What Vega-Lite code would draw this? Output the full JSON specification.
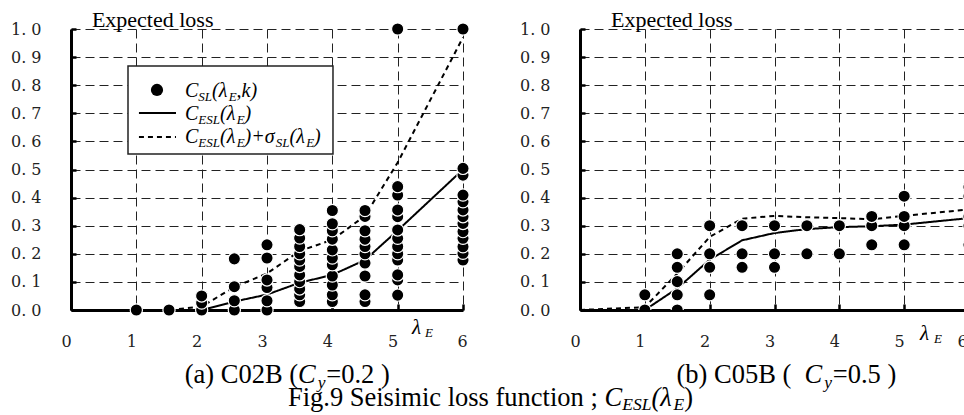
{
  "$schema": "https://vega.github.io/schema/vega-lite/v6.json",
  "background": "white",
  "padding": {"left": 10, "top": 9, "right": 0, "bottom": 0},
  "bounds": "flush",
  "spacing": 117,
  "config": {
    "view": {"stroke": null},
    "axis": {"grid": true, "gridDash": [9, 5], "gridColor": "#222", "gridWidth": 1, "domainColor": "black", "domainWidth": 3, "tickColor": "black", "tickWidth": 2.5, "labelFont": "DejaVu Serif", "labelFontSize": 16, "labelColor": "#222", "labelOverlap": false},
    "text": {"font": "Liberation Serif", "align": "left", "baseline": "alphabetic", "color": "black"}
  },
  "datasets": {
    "pa": [
      {"x": 1, "y": 0}, {"x": 1.5, "y": 0},
      {"x": 2, "y": 0}, {"x": 2, "y": 0.025}, {"x": 2, "y": 0.05},
      {"x": 2.5, "y": 0}, {"x": 2.5, "y": 0.033}, {"x": 2.5, "y": 0.083}, {"x": 2.5, "y": 0.182},
      {"x": 3, "y": 0}, {"x": 3, "y": 0.033}, {"x": 3, "y": 0.08}, {"x": 3, "y": 0.107}, {"x": 3, "y": 0.185}, {"x": 3, "y": 0.232},
      {"x": 3.5, "y": 0.03}, {"x": 3.5, "y": 0.054}, {"x": 3.5, "y": 0.075}, {"x": 3.5, "y": 0.101}, {"x": 3.5, "y": 0.125}, {"x": 3.5, "y": 0.155}, {"x": 3.5, "y": 0.178}, {"x": 3.5, "y": 0.2}, {"x": 3.5, "y": 0.226}, {"x": 3.5, "y": 0.256}, {"x": 3.5, "y": 0.286},
      {"x": 4, "y": 0.03}, {"x": 4, "y": 0.054}, {"x": 4, "y": 0.089}, {"x": 4, "y": 0.121}, {"x": 4, "y": 0.161}, {"x": 4, "y": 0.185}, {"x": 4, "y": 0.214}, {"x": 4, "y": 0.252}, {"x": 4, "y": 0.282}, {"x": 4, "y": 0.307}, {"x": 4, "y": 0.354},
      {"x": 4.5, "y": 0.03}, {"x": 4.5, "y": 0.054}, {"x": 4.5, "y": 0.121}, {"x": 4.5, "y": 0.167}, {"x": 4.5, "y": 0.2}, {"x": 4.5, "y": 0.226}, {"x": 4.5, "y": 0.252}, {"x": 4.5, "y": 0.282}, {"x": 4.5, "y": 0.333}, {"x": 4.5, "y": 0.354},
      {"x": 5, "y": 0.053}, {"x": 5, "y": 0.107}, {"x": 5, "y": 0.125}, {"x": 5, "y": 0.178}, {"x": 5, "y": 0.2}, {"x": 5, "y": 0.226}, {"x": 5, "y": 0.255}, {"x": 5, "y": 0.285}, {"x": 5, "y": 0.332}, {"x": 5, "y": 0.356}, {"x": 5, "y": 0.409}, {"x": 5, "y": 0.439}, {"x": 5, "y": 1.0},
      {"x": 6, "y": 0.178}, {"x": 6, "y": 0.202}, {"x": 6, "y": 0.225}, {"x": 6, "y": 0.255}, {"x": 6, "y": 0.279}, {"x": 6, "y": 0.308}, {"x": 6, "y": 0.332}, {"x": 6, "y": 0.356}, {"x": 6, "y": 0.385}, {"x": 6, "y": 0.409}, {"x": 6, "y": 0.48}, {"x": 6, "y": 0.504}, {"x": 6, "y": 1.0}
    ],
    "la": [
      {"x": 0, "y": 0, "s": "mean"}, {"x": 1, "y": 0, "s": "mean"}, {"x": 1.5, "y": 0, "s": "mean"}, {"x": 2, "y": 0, "s": "mean"}, {"x": 2.5, "y": 0.03, "s": "mean"}, {"x": 3, "y": 0.055, "s": "mean"}, {"x": 3.5, "y": 0.097, "s": "mean"}, {"x": 4, "y": 0.125, "s": "mean"}, {"x": 4.5, "y": 0.178, "s": "mean"}, {"x": 5, "y": 0.283, "s": "mean"}, {"x": 6, "y": 0.5, "s": "mean"},
      {"x": 0, "y": 0, "s": "mean+sd"}, {"x": 1, "y": 0, "s": "mean+sd"}, {"x": 1.5, "y": 0, "s": "mean+sd"}, {"x": 2, "y": 0.012, "s": "mean+sd"}, {"x": 2.5, "y": 0.082, "s": "mean+sd"}, {"x": 3, "y": 0.13, "s": "mean+sd"}, {"x": 3.5, "y": 0.21, "s": "mean+sd"}, {"x": 4, "y": 0.25, "s": "mean+sd"}, {"x": 4.5, "y": 0.335, "s": "mean+sd"}, {"x": 5, "y": 0.525, "s": "mean+sd"}, {"x": 6, "y": 0.97, "s": "mean+sd"}
    ],
    "pb": [
      {"x": 1, "y": 0}, {"x": 1, "y": 0.054},
      {"x": 1.5, "y": 0}, {"x": 1.5, "y": 0.054}, {"x": 1.5, "y": 0.101}, {"x": 1.5, "y": 0.152}, {"x": 1.5, "y": 0.2},
      {"x": 2, "y": 0.054}, {"x": 2, "y": 0.152}, {"x": 2, "y": 0.2}, {"x": 2, "y": 0.3},
      {"x": 2.5, "y": 0.152}, {"x": 2.5, "y": 0.2}, {"x": 2.5, "y": 0.3},
      {"x": 3, "y": 0.152}, {"x": 3, "y": 0.2}, {"x": 3, "y": 0.3},
      {"x": 3.5, "y": 0.2}, {"x": 3.5, "y": 0.3},
      {"x": 4, "y": 0.2}, {"x": 4, "y": 0.3},
      {"x": 4.5, "y": 0.232}, {"x": 4.5, "y": 0.3}, {"x": 4.5, "y": 0.333},
      {"x": 5, "y": 0.232}, {"x": 5, "y": 0.3}, {"x": 5, "y": 0.333}, {"x": 5, "y": 0.405},
      {"x": 6, "y": 0.232}, {"x": 6, "y": 0.3}, {"x": 6, "y": 0.333}, {"x": 6, "y": 0.405}, {"x": 6, "y": 0.438}
    ],
    "lb": [
      {"x": 0, "y": 0, "s": "mean"}, {"x": 1, "y": 0, "s": "mean"}, {"x": 1.5, "y": 0.077, "s": "mean"}, {"x": 2, "y": 0.179, "s": "mean"}, {"x": 2.5, "y": 0.248, "s": "mean"}, {"x": 3, "y": 0.274, "s": "mean"}, {"x": 3.5, "y": 0.288, "s": "mean"}, {"x": 4, "y": 0.295, "s": "mean"}, {"x": 4.5, "y": 0.298, "s": "mean"}, {"x": 5, "y": 0.304, "s": "mean"}, {"x": 6, "y": 0.327, "s": "mean"},
      {"x": 0, "y": 0, "s": "mean+sd"}, {"x": 1, "y": 0.01, "s": "mean+sd"}, {"x": 1.5, "y": 0.13, "s": "mean+sd"}, {"x": 2, "y": 0.26, "s": "mean+sd"}, {"x": 2.5, "y": 0.325, "s": "mean+sd"}, {"x": 3, "y": 0.335, "s": "mean+sd"}, {"x": 3.5, "y": 0.33, "s": "mean+sd"}, {"x": 4, "y": 0.327, "s": "mean+sd"}, {"x": 4.5, "y": 0.323, "s": "mean+sd"}, {"x": 5, "y": 0.335, "s": "mean+sd"}, {"x": 6, "y": 0.358, "s": "mean+sd"}
    ]
  },
  "hconcat": [
    {
      "width": 392,
      "height": 281,
      "layer": [
        {"data": {"name": "la"}, "mark": {"type": "line", "color": "black", "strokeWidth": 2},
          "encoding": {
            "x": {"field": "x", "type": "quantitative", "scale": {"domain": [0, 6], "nice": false, "zero": false}, "axis": {"values": [0, 1, 2, 3, 4, 5, 6], "format": "d", "title": null, "grid": true, "tickSize": -6, "labelPadding": 29, "labelFlush": false, "labelOverlap": false, "labelOffset": {"condition": {"test": "datum.value == 6", "value": -1}, "value": -5}}},
            "y": {"field": "y", "type": "quantitative", "scale": {"domain": [0, 1], "nice": false}, "axis": {"values": [0, 0.1, 0.2, 0.3, 0.4, 0.5, 0.6, 0.7, 0.8, 0.9, 1.0], "title": null, "grid": true, "tickSize": -5, "labelPadding": 35, "labelOverlap": false, "labelExpr": "replace(format(datum.value, '.1f'), '.', '. ')"}},
            "strokeDash": {"field": "s", "type": "nominal", "scale": {"domain": ["mean", "mean+sd"], "range": [[1, 0], [5, 4]]}, "legend": null}}},
        {"data": {"name": "pa"}, "mark": {"type": "circle", "size": 150, "fill": "black", "stroke": "white", "strokeWidth": 1.2, "opacity": 1},
          "encoding": {
            "x": {"field": "x", "type": "quantitative", "scale": {"domain": [0, 6], "nice": false, "zero": false}, "axis": {"values": [0, 1, 2, 3, 4, 5, 6], "format": "d", "title": null, "grid": true, "tickSize": -6, "labelPadding": 29, "labelFlush": false, "labelOverlap": false, "labelOffset": {"condition": {"test": "datum.value == 6", "value": -1}, "value": -5}}},
            "y": {"field": "y", "type": "quantitative", "scale": {"domain": [0, 1], "nice": false}, "axis": {"values": [0, 0.1, 0.2, 0.3, 0.4, 0.5, 0.6, 0.7, 0.8, 0.9, 1.0], "title": null, "grid": true, "tickSize": -5, "labelPadding": 35, "labelOverlap": false, "labelExpr": "replace(format(datum.value, '.1f'), '.', '. ')"}}}},
        {"data": {"values": [{}]},
          "encoding": {
            "x": {"datum": 0, "type": "quantitative", "scale": {"domain": [0, 6], "nice": false, "zero": false}, "axis": {"values": [0, 1, 2, 3, 4, 5, 6], "format": "d", "title": null, "grid": true, "tickSize": -6, "labelPadding": 29, "labelFlush": false, "labelOverlap": false, "labelOffset": {"condition": {"test": "datum.value == 6", "value": -1}, "value": -5}}},
            "y": {"datum": 0, "type": "quantitative", "scale": {"domain": [0, 1], "nice": false}, "axis": {"values": [0, 0.1, 0.2, 0.3, 0.4, 0.5, 0.6, 0.7, 0.8, 0.9, 1.0], "title": null, "grid": true, "tickSize": -5, "labelPadding": 35, "labelOverlap": false, "labelExpr": "replace(format(datum.value, '.1f'), '.', '. ')"}}
          },
          "layer": [
            {"mark": {"type": "rect", "fill": "white", "stroke": "#222", "strokeWidth": 1.5},
              "encoding": {"x": {"datum": 0.8725}, "x2": {"datum": 4.01}, "y": {"datum": 0.868}, "y2": {"datum": 0.555}}},
            {"mark": {"type": "circle", "size": 150, "fill": "black", "opacity": 1}, "encoding": {"x": {"datum": 1.316}, "y": {"datum": 0.783}}},
            {"mark": {"type": "rule", "color": "black", "strokeWidth": 2}, "encoding": {"x": {"datum": 1.04}, "x2": {"datum": 1.607}, "y": {"datum": 0.701}}},
            {"mark": {"type": "rule", "color": "black", "strokeWidth": 2, "strokeDash": [5, 4]}, "encoding": {"x": {"datum": 1.04}, "x2": {"datum": 1.607}, "y": {"datum": 0.616}}},
            {"mark": {"type": "text", "text": "Expected loss", "fontSize": 22}, "encoding": {"x": {"datum": 0.32}, "y": {"datum": 1.007}}},
            {"mark": {"type": "text", "text": "λ", "fontSize": 21, "fontStyle": "italic"}, "encoding": {"x": {"datum": 5.22}, "y": {"datum": -0.085}}},
            {"mark": {"type": "text", "text": "E", "fontSize": 13, "fontStyle": "italic", "dx": 13, "dy": 3}, "encoding": {"x": {"datum": 5.22}, "y": {"datum": -0.085}}},
            {"mark": {"type": "text", "text": "C", "fontSize": 20, "fontStyle": "italic", "dx": 0}, "encoding": {"x": {"datum": 1.745}, "y": {"datum": 0.758}}},
            {"mark": {"type": "text", "text": "SL", "fontSize": 13, "fontStyle": "italic", "dx": 13.3, "dy": 4}, "encoding": {"x": {"datum": 1.745}, "y": {"datum": 0.758}}},
            {"mark": {"type": "text", "text": "(λ", "fontSize": 20, "fontStyle": "italic", "dx": 27}, "encoding": {"x": {"datum": 1.745}, "y": {"datum": 0.758}}},
            {"mark": {"type": "text", "text": "E", "fontSize": 13, "fontStyle": "italic", "dx": 43.7, "dy": 4}, "encoding": {"x": {"datum": 1.745}, "y": {"datum": 0.758}}},
            {"mark": {"type": "text", "text": ",k)", "fontSize": 20, "fontStyle": "italic", "dx": 51.6}, "encoding": {"x": {"datum": 1.745}, "y": {"datum": 0.758}}},
            {"mark": {"type": "text", "text": "C", "fontSize": 20, "fontStyle": "italic", "dx": 0}, "encoding": {"x": {"datum": 1.745}, "y": {"datum": 0.676}}},
            {"mark": {"type": "text", "text": "ESL", "fontSize": 13, "fontStyle": "italic", "dx": 13.3, "dy": 4}, "encoding": {"x": {"datum": 1.745}, "y": {"datum": 0.676}}},
            {"mark": {"type": "text", "text": "(λ", "fontSize": 20, "fontStyle": "italic", "dx": 35}, "encoding": {"x": {"datum": 1.745}, "y": {"datum": 0.676}}},
            {"mark": {"type": "text", "text": "E", "fontSize": 13, "fontStyle": "italic", "dx": 51.7, "dy": 4}, "encoding": {"x": {"datum": 1.745}, "y": {"datum": 0.676}}},
            {"mark": {"type": "text", "text": ")", "fontSize": 20, "fontStyle": "italic", "dx": 59.6}, "encoding": {"x": {"datum": 1.745}, "y": {"datum": 0.676}}},
            {"mark": {"type": "text", "text": "C", "fontSize": 20, "fontStyle": "italic", "dx": 0}, "encoding": {"x": {"datum": 1.745}, "y": {"datum": 0.594}}},
            {"mark": {"type": "text", "text": "ESL", "fontSize": 13, "fontStyle": "italic", "dx": 13.3, "dy": 4}, "encoding": {"x": {"datum": 1.745}, "y": {"datum": 0.594}}},
            {"mark": {"type": "text", "text": "(λ", "fontSize": 20, "fontStyle": "italic", "dx": 35}, "encoding": {"x": {"datum": 1.745}, "y": {"datum": 0.594}}},
            {"mark": {"type": "text", "text": "E", "fontSize": 13, "fontStyle": "italic", "dx": 51.7, "dy": 4}, "encoding": {"x": {"datum": 1.745}, "y": {"datum": 0.594}}},
            {"mark": {"type": "text", "text": ")+σ", "fontSize": 20, "fontStyle": "italic", "dx": 59.6}, "encoding": {"x": {"datum": 1.745}, "y": {"datum": 0.594}}},
            {"mark": {"type": "text", "text": "SL", "fontSize": 13, "fontStyle": "italic", "dx": 90.8, "dy": 4}, "encoding": {"x": {"datum": 1.745}, "y": {"datum": 0.594}}},
            {"mark": {"type": "text", "text": "(λ", "fontSize": 20, "fontStyle": "italic", "dx": 104.5}, "encoding": {"x": {"datum": 1.745}, "y": {"datum": 0.594}}},
            {"mark": {"type": "text", "text": "E", "fontSize": 13, "fontStyle": "italic", "dx": 121.2, "dy": 4}, "encoding": {"x": {"datum": 1.745}, "y": {"datum": 0.594}}},
            {"mark": {"type": "text", "text": ")", "fontSize": 20, "fontStyle": "italic", "dx": 129.1}, "encoding": {"x": {"datum": 1.745}, "y": {"datum": 0.594}}},
            {"mark": {"type": "text", "text": "(a) C02B (", "fontSize": 26.5, "dx": 0}, "encoding": {"x": {"datum": 1.74}, "y": {"datum": -0.26}}},
            {"mark": {"type": "text", "text": "C", "fontSize": 26.5, "fontStyle": "italic", "dx": 113.3}, "encoding": {"x": {"datum": 1.74}, "y": {"datum": -0.26}}},
            {"mark": {"type": "text", "text": "y", "fontSize": 17.5, "fontStyle": "italic", "dx": 133, "dy": 5}, "encoding": {"x": {"datum": 1.74}, "y": {"datum": -0.26}}},
            {"mark": {"type": "text", "text": "=0.2 )", "fontSize": 26.5, "dx": 141.5}, "encoding": {"x": {"datum": 1.74}, "y": {"datum": -0.26}}},
            {"mark": {"type": "text", "text": "Fig.9 Seisimic loss function ; ", "fontSize": 26.5, "dx": 0}, "encoding": {"x": {"datum": 3.32}, "y": {"datum": -0.342}}},
            {"mark": {"type": "text", "text": "C", "fontSize": 26.5, "fontStyle": "italic", "dx": 316.6}, "encoding": {"x": {"datum": 3.32}, "y": {"datum": -0.342}}},
            {"mark": {"type": "text", "text": "ESL", "fontSize": 17.5, "fontStyle": "italic", "dx": 334.3, "dy": 4}, "encoding": {"x": {"datum": 3.32}, "y": {"datum": -0.342}}},
            {"mark": {"type": "text", "text": "(λ", "fontSize": 26.5, "fontStyle": "italic", "dx": 363.5}, "encoding": {"x": {"datum": 3.32}, "y": {"datum": -0.342}}},
            {"mark": {"type": "text", "text": "E", "fontSize": 17.5, "fontStyle": "italic", "dx": 385.6, "dy": 4}, "encoding": {"x": {"datum": 3.32}, "y": {"datum": -0.342}}},
            {"mark": {"type": "text", "text": ")", "fontSize": 26.5, "dx": 396.3}, "encoding": {"x": {"datum": 3.32}, "y": {"datum": -0.342}}}
          ]
        }
      ]
    },
    {
      "width": 389,
      "height": 281,
      "layer": [
        {"data": {"name": "lb"}, "mark": {"type": "line", "color": "black", "strokeWidth": 2, "clip": true},
          "encoding": {
            "x": {"field": "x", "type": "quantitative", "scale": {"domain": [0, 6], "nice": false, "zero": false}, "axis": {"values": [0, 1, 2, 3, 4, 5, 6], "format": "d", "title": null, "grid": true, "tickSize": -6, "labelPadding": 29, "labelFlush": false, "labelOverlap": false, "labelOffset": {"condition": {"test": "datum.value == 6", "value": -7}, "value": -5}}},
            "y": {"field": "y", "type": "quantitative", "scale": {"domain": [0, 1], "nice": false}, "axis": {"values": [0, 0.1, 0.2, 0.3, 0.4, 0.5, 0.6, 0.7, 0.8, 0.9, 1.0], "title": null, "grid": true, "tickSize": -5, "labelPadding": 35, "labelOverlap": false, "labelExpr": "replace(format(datum.value, '.1f'), '.', '. ')"}},
            "strokeDash": {"field": "s", "type": "nominal", "scale": {"domain": ["mean", "mean+sd"], "range": [[1, 0], [5, 4]]}, "legend": null}}},
        {"data": {"name": "pb"}, "mark": {"type": "circle", "size": 150, "fill": "black", "stroke": "white", "strokeWidth": 1.2, "opacity": 1, "clip": true},
          "encoding": {
            "x": {"field": "x", "type": "quantitative", "scale": {"domain": [0, 6], "nice": false, "zero": false}, "axis": {"values": [0, 1, 2, 3, 4, 5, 6], "format": "d", "title": null, "grid": true, "tickSize": -6, "labelPadding": 29, "labelFlush": false, "labelOverlap": false, "labelOffset": {"condition": {"test": "datum.value == 6", "value": -7}, "value": -5}}},
            "y": {"field": "y", "type": "quantitative", "scale": {"domain": [0, 1], "nice": false}, "axis": {"values": [0, 0.1, 0.2, 0.3, 0.4, 0.5, 0.6, 0.7, 0.8, 0.9, 1.0], "title": null, "grid": true, "tickSize": -5, "labelPadding": 35, "labelOverlap": false, "labelExpr": "replace(format(datum.value, '.1f'), '.', '. ')"}}}},
        {"data": {"values": [{}]},
          "encoding": {
            "x": {"datum": 0, "type": "quantitative", "scale": {"domain": [0, 6], "nice": false, "zero": false}, "axis": {"values": [0, 1, 2, 3, 4, 5, 6], "format": "d", "title": null, "grid": true, "tickSize": -6, "labelPadding": 29, "labelFlush": false, "labelOverlap": false, "labelOffset": {"condition": {"test": "datum.value == 6", "value": -7}, "value": -5}}},
            "y": {"datum": 0, "type": "quantitative", "scale": {"domain": [0, 1], "nice": false}, "axis": {"values": [0, 0.1, 0.2, 0.3, 0.4, 0.5, 0.6, 0.7, 0.8, 0.9, 1.0], "title": null, "grid": true, "tickSize": -5, "labelPadding": 35, "labelOverlap": false, "labelExpr": "replace(format(datum.value, '.1f'), '.', '. ')"}}
          },
          "layer": [
            {"mark": {"type": "text", "text": "Expected loss", "fontSize": 22}, "encoding": {"x": {"datum": 0.478}, "y": {"datum": 1.007}}},
            {"mark": {"type": "text", "text": "λ", "fontSize": 21, "fontStyle": "italic"}, "encoding": {"x": {"datum": 5.244}, "y": {"datum": -0.107}}},
            {"mark": {"type": "text", "text": "E", "fontSize": 13, "fontStyle": "italic", "dx": 14, "dy": 3}, "encoding": {"x": {"datum": 5.244}, "y": {"datum": -0.107}}},
            {"mark": {"type": "text", "text": "(b) C05B  ( ", "fontSize": 26.5, "dx": 0}, "encoding": {"x": {"datum": 1.488}, "y": {"datum": -0.26}}},
            {"mark": {"type": "text", "text": "C", "fontSize": 26.5, "fontStyle": "italic", "dx": 128.1}, "encoding": {"x": {"datum": 1.488}, "y": {"datum": -0.26}}},
            {"mark": {"type": "text", "text": "y", "fontSize": 17.5, "fontStyle": "italic", "dx": 147.8, "dy": 5}, "encoding": {"x": {"datum": 1.488}, "y": {"datum": -0.26}}},
            {"mark": {"type": "text", "text": "=0.5 )", "fontSize": 26.5, "dx": 156.3}, "encoding": {"x": {"datum": 1.488}, "y": {"datum": -0.26}}}
          ]
        }
      ]
    }
  ]
}
